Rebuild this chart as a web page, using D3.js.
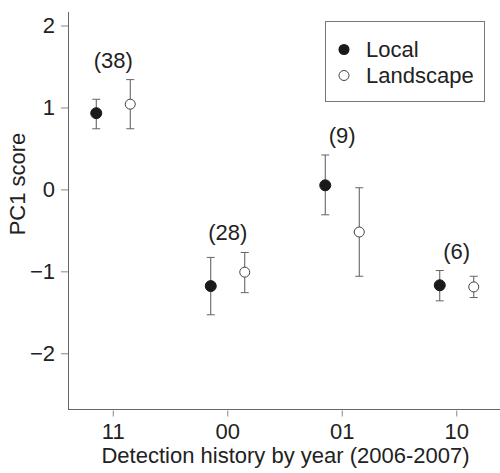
<!DOCTYPE html>
<html>
<head>
  <meta charset="utf-8">
  <script src="https://d3js.org/d3.v7.min.js"></script>
  <style>
    body{margin:0;background:#fff;}
    svg{display:block;font-family:"Liberation Sans",Arial,sans-serif;}
  </style>
</head>
<body>
<svg></svg>
<script>
// detection history groups and sample sizes
var groups = ["11", "00", "01", "10"];
var counts = ["(38)", "(28)", "(9)", "(6)"];

// PC1 score, mean and error bar ends
var localMean = [0.93, -1.18, 0.05, -1.17];
var localLow  = [0.74, -1.53, -0.31, -1.36];
var localHigh = [1.10, -0.83, 0.42, -0.99];

var landMean = [1.04, -1.01, -0.52, -1.19];
var landLow  = [0.74, -1.26, -1.06, -1.32];
var landHigh = [1.34, -0.77, 0.02, -1.06];

var yTicks = [-2, -1, 0, 1, 2];

var width = 500, height = 473;
var svg = d3.select("svg").attr("width", width).attr("height", height);

var x = d3.scaleBand().domain(groups).range([56, 514]);
var y = d3.scaleLinear().domain([-2.68, 2.165]).range([409, 12]);
var off = 17;

function cx(g){ return x(g) + x.bandwidth()/2; }

// axes
var yAxis = d3.axisLeft(y).tickValues(yTicks).tickSize(7).tickPadding(6)
  .tickFormat(function(d){ return d < 0 ? "\u2212" + Math.abs(d) : d; });
var gy = svg.append("g").attr("transform", "translate(68,0)").call(yAxis);
gy.select(".domain").remove();

var xAxis = d3.axisBottom(x).tickSize(6).tickPadding(7);
var gx = svg.append("g").attr("transform", "translate(0,410.5)").call(xAxis);
gx.select(".domain").remove();

svg.append("line").attr("x1", 68.5).attr("x2", 68.5).attr("y1", 12).attr("y2", 409.5)
  .attr("stroke", "#666");
svg.append("line").attr("x1", 68).attr("x2", 500).attr("y1", 409.5).attr("y2", 409.5)
  .attr("stroke", "#666");

svg.selectAll(".tick line").attr("stroke", "#888");
svg.selectAll(".tick text").attr("fill", "#222").style("font-size", "22px")
  .style("font-family", "'Liberation Sans',Arial,sans-serif");

// axis titles
svg.append("text").attr("x", 285.5).attr("y", 463).attr("text-anchor", "middle")
  .style("font-size", "22px").attr("fill", "#222")
  .text("Detection history by year (2006-2007)");
svg.append("text").attr("transform", "translate(25,184) rotate(-90)")
  .attr("text-anchor", "middle").style("font-size", "22px").attr("fill", "#222")
  .text("PC1 score");

// error bars + points
function series(mean, low, high, dx, filled){
  var g = svg.append("g");
  groups.forEach(function(gr, i){
    var px = cx(gr) + dx;
    g.append("line").attr("x1", px).attr("x2", px)
      .attr("y1", y(low[i])).attr("y2", y(high[i])).attr("stroke", "#555");
    [low[i], high[i]].forEach(function(v){
      g.append("line").attr("x1", px - 4).attr("x2", px + 4)
        .attr("y1", y(v)).attr("y2", y(v)).attr("stroke", "#666");
    });
    g.append("circle").attr("cx", px).attr("cy", y(mean[i]))
      .attr("r", filled ? 5.5 : 5)
      .attr("fill", filled ? "#1a1a1a" : "#fff")
      .attr("stroke", filled ? "#1a1a1a" : "#444").attr("stroke-width", 1);
  });
}
series(localMean, localLow, localHigh, -off, true);
series(landMean, landLow, landHigh, off, false);

// sample size labels
groups.forEach(function(gr, i){
  var top = Math.min(y(localHigh[i]), y(landHigh[i]));
  svg.append("text").attr("x", cx(gr)).attr("y", top - 12)
    .attr("text-anchor", "middle").style("font-size", "22px").attr("fill", "#222")
    .text(counts[i]);
});

// legend
var leg = svg.append("g");
leg.append("rect").attr("x", 325.5).attr("y", 21.5).attr("width", 159).attr("height", 80)
  .attr("fill", "#fff").attr("stroke", "#777");
leg.append("circle").attr("cx", 344).attr("cy", 49.5).attr("r", 5.5).attr("fill", "#1a1a1a");
leg.append("circle").attr("cx", 344).attr("cy", 75.5).attr("r", 5)
  .attr("fill", "#fff").attr("stroke", "#444");
leg.append("text").attr("x", 366).attr("y", 57).style("font-size", "22px").attr("fill", "#222").text("Local");
leg.append("text").attr("x", 366).attr("y", 83).style("font-size", "22px").attr("fill", "#222").text("Landscape");
</script>
</body>
</html>
